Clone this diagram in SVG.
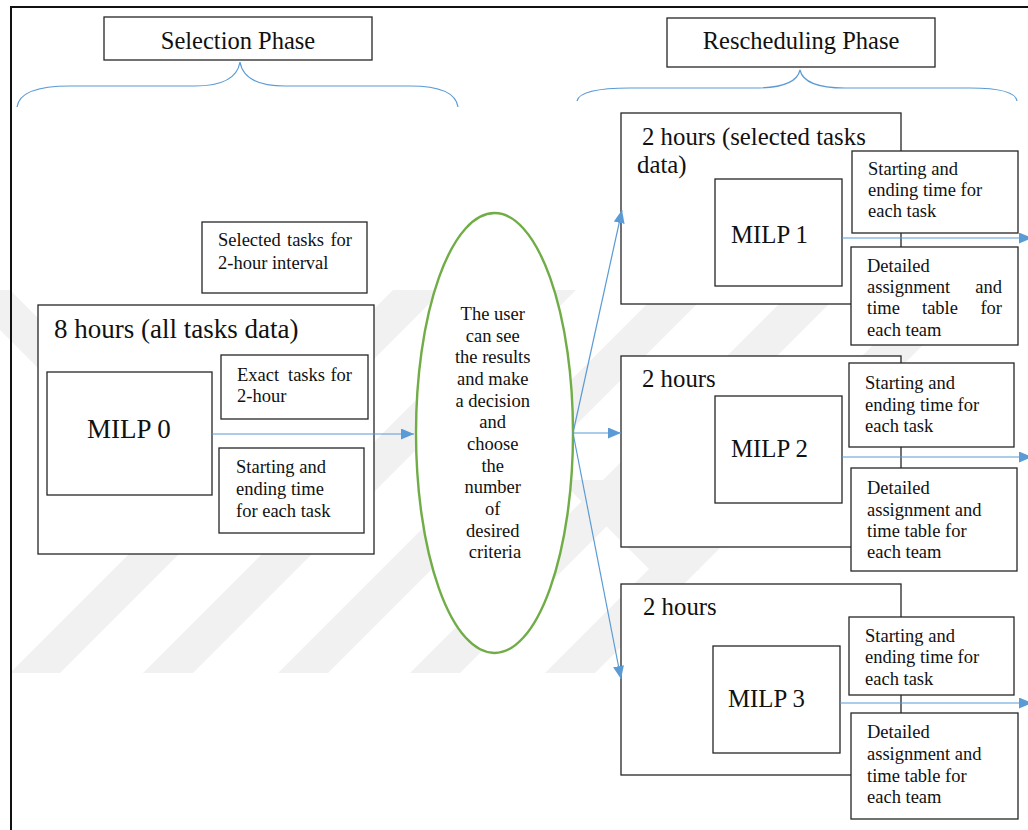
<svg xmlns="http://www.w3.org/2000/svg" width="1028" height="830" viewBox="0 0 1028 830" font-family="'Liberation Serif', 'DejaVu Serif', serif">
  <defs>
    <style>
      .box { fill: #ffffff; stroke: #262626; stroke-width: 1.3; }
      .frame { fill: none; stroke: #111111; stroke-width: 2; }
      .brace { fill: none; stroke: #5b9bd5; stroke-width: 1.2; }
      .link { fill: none; stroke: #5b9bd5; stroke-width: 1.2; }
      .oval { fill: #ffffff; stroke: #70ad47; stroke-width: 2.4; }
      .wm { fill: #f1f1f1; }
      text { font-family: 'Liberation Serif', 'DejaVu Serif', serif; fill: #111111; }
      .title { font-size: 24.5px; text-anchor: middle; }
      .big { font-size: 27px; }
      .mid { font-size: 24.8px; }
      .small { font-size: 18.5px; }
      .center { text-anchor: middle; }
    </style>
    <marker id="arrow" markerUnits="userSpaceOnUse" markerWidth="13" markerHeight="11" refX="13" refY="5.5" orient="auto">
      <path d="M0,0 L13,5.5 L0,11 z" fill="#5b9bd5"/>
    </marker>
    <clipPath id="wmclip">
      <rect x="0" y="280" width="1028" height="394"/>
    </clipPath>
  </defs>

  <rect width="1028" height="830" fill="#ffffff"/>

  <!-- faint diagonal background mark -->
  <g id="background-mark" clip-path="url(#wmclip)">
    <polygon class="wm" points="10,673 60,673 443,290 393,290"/>
    <polygon class="wm" points="143,673 193,673 576,290 526,290"/>
    <polygon class="wm" points="278,673 328,673 711,290 661,290"/>
    <polygon class="wm" points="410,673 460,673 843,290 793,290"/>
    <polygon class="wm" points="545,673 595,673 978,290 928,290"/>
    <polygon class="wm" points="-40,290 10,290 110,390 60,390"/>
    <polygon class="wm" points="560,480 610,480 700,570 650,570"/>
  </g>

  <!-- page frame -->
  <path class="frame" d="M11,830 L11,7 L1028,7"/>

  <!-- phase headers -->
  <g id="selection-phase">
    <rect class="box" x="104" y="17" width="268" height="43"/>
    <text class="title" x="238" y="49">Selection Phase</text>
    <path class="brace" d="M17,107 Q20,86 70,86 L195,86 Q236,86 240,62 Q244,86 285,86 L410,86 Q455,86 458,107"/>
  </g>
  <g id="rescheduling-phase">
    <rect class="box" x="667" y="18" width="268" height="49"/>
    <text class="title" x="801" y="49">Rescheduling Phase</text>
    <path class="brace" d="M577,101 Q580,88 630,88 L755,88 Q796,88 800,70 Q804,88 845,88 L970,88 Q1015,88 1017,101"/>
  </g>

  <!-- selection side -->
  <g id="selected-tasks">
    <rect class="box" x="202" y="222" width="165" height="71"/>
    <text class="small" y="246"><tspan x="218">Selected</tspan><tspan x="287">tasks</tspan><tspan x="352" text-anchor="end">for</tspan></text>
    <text class="small" x="218" y="269">2-hour interval</text>
  </g>

  <g id="milp0-stage">
    <rect class="box" x="38" y="305" width="336" height="249"/>
    <text class="big" x="54" y="338">8 hours (all tasks data)</text>
  </g>
  <g id="milp0">
    <rect class="box" x="47" y="372" width="165" height="123"/>
    <text class="big" x="87" y="438">MILP 0</text>
  </g>
  <g id="exact-tasks">
    <rect class="box" x="221" y="355" width="147" height="64"/>
    <text class="small" y="381"><tspan x="237">Exact</tspan><tspan x="288">tasks</tspan><tspan x="352" text-anchor="end">for</tspan></text>
    <text class="small" x="237" y="402">2-hour</text>
  </g>
  <g id="milp0-times">
    <rect class="box" x="219" y="448" width="145" height="85"/>
    <text class="small" x="236" y="473">Starting and</text>
    <text class="small" x="236" y="495">ending time</text>
    <text class="small" x="236" y="517">for each task</text>
  </g>

  <!-- decision -->
  <g id="decision">
    <ellipse class="oval" cx="494.5" cy="433" rx="78.5" ry="220"/>
    <text class="small center">
      <tspan x="495" y="320">The user</tspan>
      <tspan x="495" y="341.7">can see</tspan>
      <tspan x="495" y="363.3">the results</tspan>
      <tspan x="495" y="385">and make</tspan>
      <tspan x="495" y="406.7">a decision</tspan>
      <tspan x="495" y="428.3">and</tspan>
      <tspan x="495" y="450">choose</tspan>
      <tspan x="495" y="471.7">the</tspan>
      <tspan x="495" y="493.3">number</tspan>
      <tspan x="495" y="515">of</tspan>
      <tspan x="495" y="536.7">desired</tspan>
      <tspan x="495" y="558.3">criteria</tspan>
    </text>
  </g>

  <!-- rescheduling run 1 -->
  <g id="milp1-stage">
    <rect class="box" x="621" y="113" width="280" height="191"/>
    <text class="mid" x="642" y="145">2 hours (selected tasks</text>
    <text class="mid" x="637" y="173">data)</text>
  </g>
  <g id="milp1">
    <rect class="box" x="715" y="179" width="127" height="107"/>
    <text class="mid" x="731" y="243">MILP 1</text>
  </g>
  <g id="milp1-times">
    <rect class="box" x="852" y="151" width="166" height="82"/>
    <text class="small" x="868" y="175">Starting and</text>
    <text class="small" x="868" y="196">ending time for</text>
    <text class="small" x="868" y="217">each task</text>
  </g>
  <g id="milp1-timetable">
    <rect class="box" x="851" y="247" width="167" height="98"/>
    <text class="small" x="867" y="272">Detailed</text>
    <text class="small" y="293"><tspan x="867">assignment</tspan><tspan x="1002" text-anchor="end">and</tspan></text>
    <text class="small" y="314"><tspan x="867">time</tspan><tspan x="940" text-anchor="middle">table</tspan><tspan x="1002" text-anchor="end">for</tspan></text>
    <text class="small" x="867" y="336">each team</text>
  </g>

  <!-- rescheduling run 2 -->
  <g id="milp2-stage">
    <rect class="box" x="621" y="356" width="280" height="191"/>
    <text class="mid" x="642" y="387">2 hours</text>
  </g>
  <g id="milp2">
    <rect class="box" x="715" y="396" width="127" height="107"/>
    <text class="mid" x="731" y="457">MILP 2</text>
  </g>
  <g id="milp2-times">
    <rect class="box" x="849" y="363" width="165" height="84"/>
    <text class="small" x="865" y="389">Starting and</text>
    <text class="small" x="865" y="411">ending time for</text>
    <text class="small" x="865" y="432">each task</text>
  </g>
  <g id="milp2-timetable">
    <rect class="box" x="851" y="468" width="166" height="103"/>
    <text class="small" x="867" y="494">Detailed</text>
    <text class="small" x="867" y="516">assignment and</text>
    <text class="small" x="867" y="537">time table for</text>
    <text class="small" x="867" y="558">each team</text>
  </g>

  <!-- rescheduling run 3 -->
  <g id="milp3-stage">
    <rect class="box" x="621" y="584" width="280" height="191"/>
    <text class="mid" x="643" y="615">2 hours</text>
  </g>
  <g id="milp3">
    <rect class="box" x="713" y="646" width="127" height="107"/>
    <text class="mid" x="728" y="707">MILP 3</text>
  </g>
  <g id="milp3-times">
    <rect class="box" x="849" y="617" width="165" height="78"/>
    <text class="small" x="865" y="642">Starting and</text>
    <text class="small" x="865" y="663">ending time for</text>
    <text class="small" x="865" y="685">each task</text>
  </g>
  <g id="milp3-timetable">
    <rect class="box" x="851" y="713" width="167" height="106"/>
    <text class="small" x="867" y="738">Detailed</text>
    <text class="small" x="867" y="760">assignment and</text>
    <text class="small" x="867" y="782">time table for</text>
    <text class="small" x="867" y="803">each team</text>
  </g>

  <!-- connectors -->
  <g id="connectors">
    <path class="link" marker-end="url(#arrow)" d="M212,434 L414,434"/>
    <path class="link" marker-end="url(#arrow)" d="M573,433 L622,210"/>
    <path class="link" marker-end="url(#arrow)" d="M573,433 L621,433"/>
    <path class="link" marker-end="url(#arrow)" d="M573,433 L621,679"/>
    <path class="link" marker-end="url(#arrow)" d="M842,238 L1032,238"/>
    <path class="link" marker-end="url(#arrow)" d="M842,457 L1032,457"/>
    <path class="link" marker-end="url(#arrow)" d="M840,703 L1032,703"/>
  </g>
</svg>
